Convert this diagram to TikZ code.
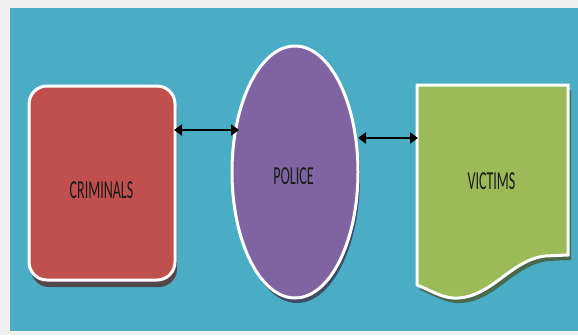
\documentclass[tikz,border=0pt]{standalone}
\usepackage{fontspec}
\setmainfont{Carlito}
\usetikzlibrary{arrows.meta,shapes.geometric}
\definecolor{pagegray}{HTML}{F0F0F0}
\definecolor{teal}{HTML}{4BACC6}
\definecolor{crimred}{HTML}{C0504D}
\definecolor{polpurple}{HTML}{8064A2}
\definecolor{vicgreen}{HTML}{9BBB59}
\newcommand{\tallcaps}[1]{\scalebox{1}[1.85]{\fontsize{14}{16}\selectfont #1}}
\tikzset{
  x=1pt, y=-1pt,
  shapeborder/.style={draw=white, line width=3pt},
  shade/.style={fill=#1!45!black, opacity=0.75},
  nodetext/.style={text=black!90, inner sep=0pt},
  link/.style={line width=2.4pt, {Triangle[length=8pt,width=11pt]}-{Triangle[length=8pt,width=11pt]}}
}
\begin{document}
\begin{tikzpicture}
  % page and panel
  \fill[pagegray] (0,0) rectangle (578,335);
  \useasboundingbox (0,0) rectangle (578,335);
  \fill[teal] (10,8) rectangle (578,331);

  % shadows
  \fill[shade=crimred, rounded corners=18pt] (31,92) rectangle (177,287);
  \fill[shade=polpurple] (297,177) ellipse [x radius=63, y radius=126];
  \fill[shade=vicgreen] (420,90) -- (571,90) -- (571,260) -- (548,261)
     .. controls (513,265) and (493,305) .. (456,303)
     .. controls (443,302) and (433,295) .. (420,290) -- cycle;

  % criminals
  \draw[shapeborder, fill=crimred, rounded corners=18pt] (29,86) rectangle (175,280);
  \node[nodetext] (crim) at (101.5,190.5) {\tallcaps{CRIMINALS}};
  \coordinate (crimR) at (174,130);

  % police
  \draw[shapeborder, fill=polpurple] (295,172) ellipse [x radius=63, y radius=126];
  \node[nodetext] (pol) at (293.5,176) {\tallcaps{POLICE}};
  \coordinate (polL) at (239,130);
  \coordinate (polR) at (358,138);

  % victims (document shape)
  \draw[shapeborder, fill=vicgreen] (417,85) -- (568,85) -- (568,255) -- (545,256)
     .. controls (510,260) and (490,300) .. (453,298)
     .. controls (440,297) and (430,290) .. (417,285) -- cycle;
  \node[nodetext] (vic) at (491.5,181.5) {\tallcaps{VICTIMS}};
  \coordinate (vicL) at (418,138);

  % connectors
  \draw[link] (crimR) -- (polL);
  \draw[link] (polR) -- (vicL);
\end{tikzpicture}
\end{document}
